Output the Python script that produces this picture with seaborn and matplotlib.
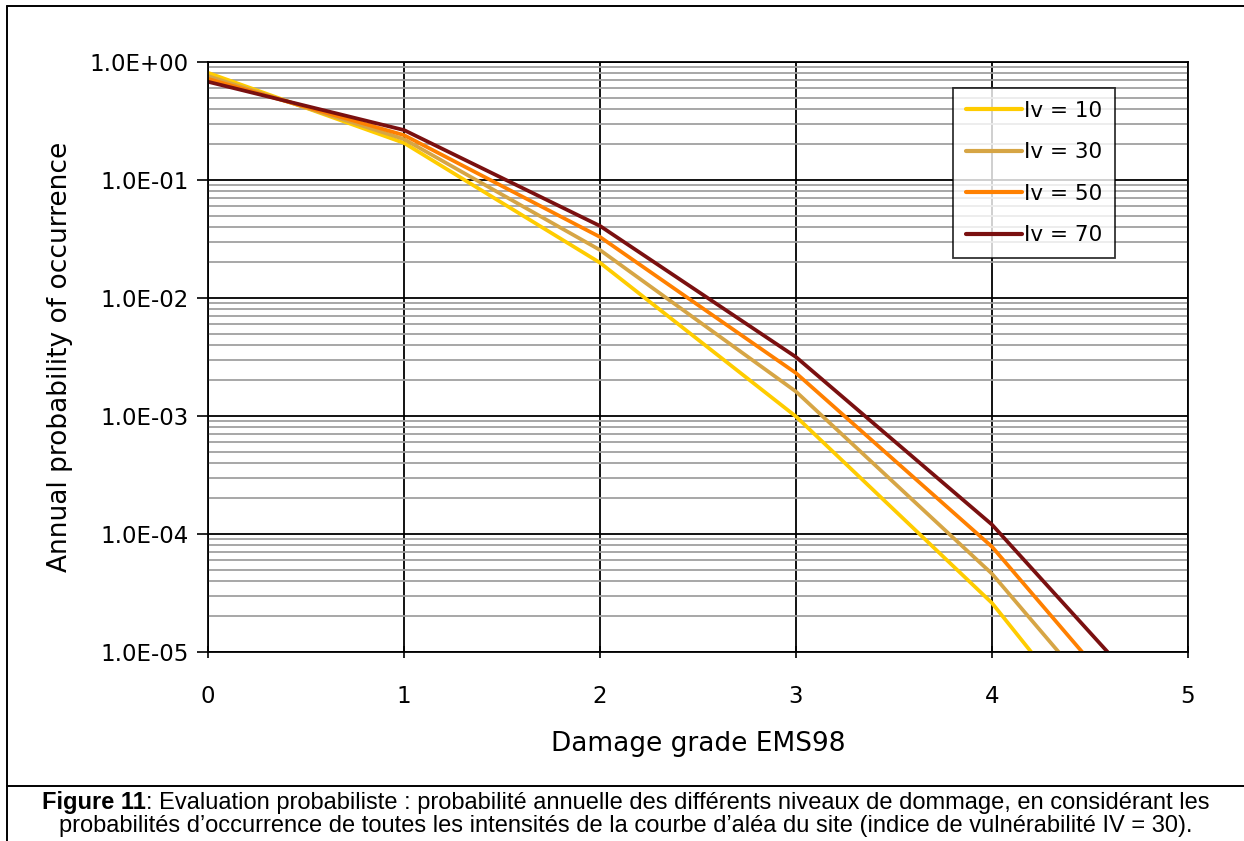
import numpy as np
import pandas as pd
import seaborn as sns
import matplotlib
matplotlib.use("Agg")
import matplotlib.pyplot as plt
from matplotlib.lines import Line2D
from matplotlib.ticker import LogLocator, FixedLocator, NullFormatter, FuncFormatter

# ---- data ----
series_names = ["Iv = 10", "Iv = 30", "Iv = 50", "Iv = 70"]
grade_iv10 = [0, 1, 2, 3, 4, 4.20]
prob_iv10 = [0.81, 0.206, 0.0199, 0.00099, 2.6e-5, 1.0e-5]
grade_iv30 = [0, 1, 2, 3, 4, 4.34]
prob_iv30 = [0.76, 0.222, 0.0255, 0.00161, 4.6e-5, 1.0e-5]
grade_iv50 = [0, 1, 2, 3, 4, 4.46]
prob_iv50 = [0.72, 0.240, 0.0329, 0.00231, 7.8e-5, 1.0e-5]
grade_iv70 = [0, 1, 2, 3, 4, 4.59]
prob_iv70 = [0.68, 0.265, 0.0408, 0.00316, 1.2e-4, 1.0e-5]
colors = ["#FFCC00", "#D6A545", "#FF8000", "#7A1010"]
x_ticks = [0, 1, 2, 3, 4, 5]
y_ticks = [1e-5, 1e-4, 1e-3, 1e-2, 1e-1, 1e0]

frames = []
for name, g, p in zip(series_names,
                      [grade_iv10, grade_iv30, grade_iv50, grade_iv70],
                      [prob_iv10, prob_iv30, prob_iv50, prob_iv70]):
    frames.append(pd.DataFrame({"grade": g, "prob": p, "series": name}))
df = pd.concat(frames, ignore_index=True)

sns.set_style("white")
plt.rcParams["font.family"] = ["DejaVu Sans"]
plt.rcParams["text.color"] = "black"
plt.rcParams["axes.labelcolor"] = "black"
plt.rcParams["xtick.color"] = "black"
plt.rcParams["ytick.color"] = "black"

W, H = 1244, 841
fig = plt.figure(figsize=(W / 100, H / 100), dpi=100)
ax = fig.add_axes([208 / W, 1 - 652 / H, 980 / W, 590 / H])

sns.lineplot(data=df, x="grade", y="prob", hue="series", palette=colors,
             hue_order=series_names, linewidth=2.7, ax=ax, legend=True,
             sort=False, estimator=None)

ax.set_yscale("log")
ax.set_xlim(0, 5)
ax.set_ylim(1e-5, 1.0)

ax.yaxis.set_major_locator(FixedLocator(y_ticks))
ax.yaxis.set_minor_locator(LogLocator(base=10, subs=np.arange(2, 10), numticks=20))
ax.yaxis.set_minor_formatter(NullFormatter())


def fmt(v, pos):
    e = int(np.round(np.log10(v)))
    sign = "+" if e >= 0 else "-"
    return f"1.0E{sign}{abs(e):02d}"


ax.yaxis.set_major_formatter(FuncFormatter(fmt))
ax.xaxis.set_major_locator(FixedLocator(x_ticks))

ax.grid(which="minor", axis="y", color="#A0A0A0", linewidth=1.3)
ax.grid(which="major", axis="both", color="black", linewidth=1.3)
ax.set_axisbelow(True)
for s in ax.spines.values():
    s.set_color("black")
    s.set_linewidth(1.3)

ax.tick_params(axis="y", which="major", direction="out", length=8, width=1.2,
               labelsize=16.5, pad=6, left=True)
ax.tick_params(axis="y", which="minor", length=0)
ax.tick_params(axis="x", which="major", direction="inout", length=8, width=1.2,
               labelsize=16.5, pad=20, bottom=True)

ax.set_xlabel("Damage grade EMS98", fontsize=19, labelpad=16)
ax.set_ylabel("Annual probability of occurrence", fontsize=19, labelpad=12)

leg = ax.legend(loc="upper right", bbox_to_anchor=(0.9255, 0.956),
                fontsize=15.5, frameon=True, fancybox=False, edgecolor="black",
                handlelength=2.6, handletextpad=0.1, labelspacing=1.0,
                borderpad=0.6, borderaxespad=0)
leg.get_frame().set_linewidth(1.3)
for lh in leg.get_lines():
    lh.set_linewidth(3)

# Figure frame and caption separator
def fline(x0, y0, x1, y1):
    fig.add_artist(Line2D([x0 / W, x1 / W], [1 - y0 / H, 1 - y1 / H],
                          color="black", linewidth=1.4,
                          transform=fig.transFigure))

fline(7, 6, W, 6)
fline(7, 6, 7, H)
fline(7, 786, W, 786)

cap_fs = 17
cap_y1 = 1 - 803 / H
cap_y2 = 1 - 826 / H
cx = 0.5 + 4 / W
line1_bold = "Figure 11"
line1_rest = ": Evaluation probabiliste : probabilité annuelle des différents niveaux de dommage, en considérant les"
# measure the full first line to center it, then draw it in two parts
tb = fig.text(0, cap_y1, line1_bold, ha="left", va="center",
              fontsize=cap_fs, family="Liberation Sans", fontweight="bold")
tr = fig.text(0, cap_y1, line1_rest, ha="left", va="center",
              fontsize=cap_fs, family="Liberation Sans")
fig.canvas.draw()
wb = tb.get_window_extent().width
wr = tr.get_window_extent().width
x_start = cx * W - (wb + wr) / 2
tb.set_x(x_start / W)
tr.set_x((x_start + wb) / W)
fig.text(cx, cap_y2,
         "probabilités d’occurrence de toutes les intensités de la courbe d’aléa du site (indice de vulnérabilité IV = 30).",
         ha="center", va="center", fontsize=cap_fs, family="Liberation Sans")

fig.savefig("out.png", dpi=100)
